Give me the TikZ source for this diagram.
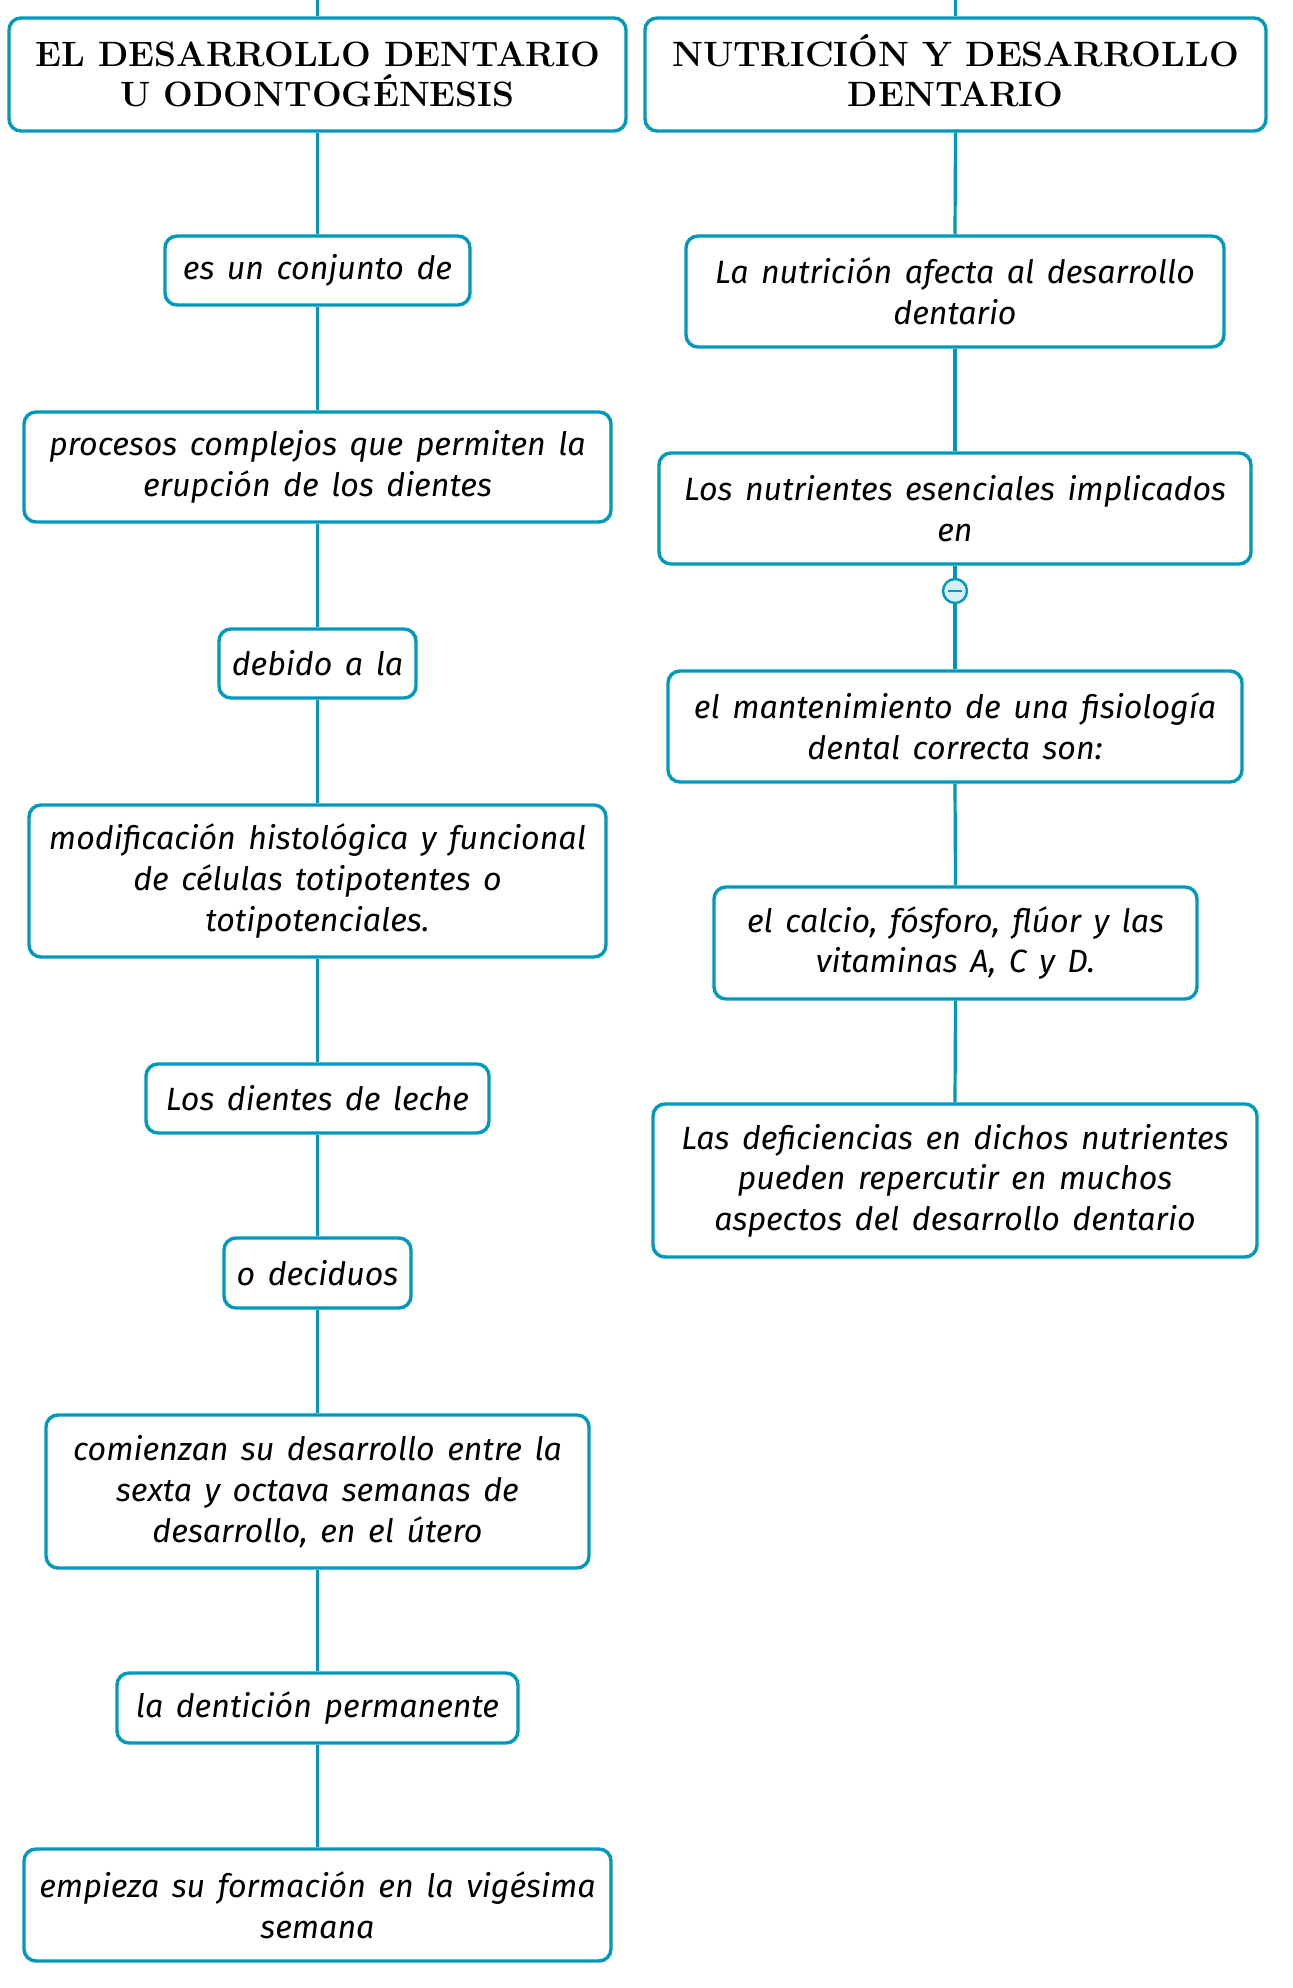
\documentclass[tikz,border=0pt]{standalone}
\usepackage{fontspec}
\usepackage{tikz}
\newfontfamily\manoletra[WordSpace=1.5]{Fira Sans Italic}
\definecolor{azul}{RGB}{0,153,190}
\definecolor{celeste}{RGB}{214,238,244}

\begin{document}
\begin{tikzpicture}[x=0.5pt,y=-0.5pt,
    titulo/.style={draw=azul, line width=1.7pt, rounded corners=6pt, fill=white,
      align=center, inner sep=0pt, font=\fontsize{17.6pt}{20.3pt}\selectfont\bfseries},
    caja/.style={draw=azul, line width=1.7pt, rounded corners=6pt, fill=white,
      align=center, inner sep=0pt, font=\fontsize{16.1pt}{20.3pt}\selectfont\manoletra},
    rama/.style={draw=azul, line width=1.6pt}]
  \useasboundingbox (0,0) rectangle (1293,1988);

  \coordinate (arribaA) at (317.5,0);
  \coordinate (arribaB) at (955.5,0);

  % columna izquierda
  \node[titulo, minimum width=308.5pt, minimum height=56.5pt] (odonto) at (317.5,74.5)
    {EL DESARROLLO DENTARIO\\U ODONTOGÉNESIS};
  \node[caja, minimum width=152.5pt, minimum height=34.5pt] (conjunto) at (317.5,270.5)
    {es un conjunto de};
  \node[caja, minimum width=293.5pt, minimum height=55pt] (procesos) at (317.5,467)
    {procesos complejos que permiten la\\erupción de los dientes};
  \node[caja, minimum width=98.5pt, minimum height=34.5pt] (debido) at (317.5,663.5)
    {debido a la};
  \node[caja, minimum width=288.5pt, minimum height=76pt] (modif) at (317.5,881)
    {modificación histológica y funcional\\de células totipotentes o\\totipotenciales.};
  \node[caja, minimum width=171.5pt, minimum height=34.5pt] (leche) at (317.5,1098.5)
    {Los dientes de leche};
  \node[caja, minimum width=93.5pt, minimum height=35pt] (deciduos) at (317.5,1273)
    {o deciduos};
  \node[caja, minimum width=271.5pt, minimum height=76.5pt] (comienzan) at (317.5,1491.5)
    {comienzan su desarrollo entre la\\sexta y octava semanas de\\desarrollo, en el útero};
  \node[caja, minimum width=200.5pt, minimum height=35pt] (permanente) at (317.5,1708)
    {la dentición permanente};
  \node[caja, minimum width=293.5pt, minimum height=56pt] (empieza) at (317.5,1905)
    {empieza su formación en la vigésima\\semana};

  % columna derecha
  \node[titulo, minimum width=310.5pt, minimum height=56.5pt] (nutri) at (955.5,74.5)
    {NUTRICI\smash{Ó}N Y DESARROLLO\\DENTARIO};
  \node[caja, minimum width=269pt, minimum height=55.5pt] (afecta) at (955,291.5)
    {La nutrición afecta al desarrollo\\dentario};
  \node[caja, minimum width=296pt, minimum height=55.5pt] (nutrientes) at (955,508.5)
    {Los nutrientes esenciales implicados\\en};
  \node[circle, draw=azul, line width=1.2pt, fill=celeste, minimum size=12pt,
    inner sep=0pt] (menos) at (955,591) {};
  \draw[azul, line width=1.3pt] ([xshift=-3.5pt]menos.center) -- ([xshift=3.5pt]menos.center);
  \node[caja, minimum width=287pt, minimum height=55.5pt] (fisio) at (955,726.5)
    {el mantenimiento de una fisiología\\dental correcta son:};
  \node[caja, minimum width=241.5pt, minimum height=56pt] (calcio) at (955.5,943)
    {el calcio, fósforo, flúor y las\\vitaminas A, C y D.};
  \node[caja, minimum width=302pt, minimum height=76.5pt] (deficit) at (955,1180.5)
    {Las deficiencias en dichos nutrientes\\pueden repercutir en muchos\\aspectos del desarrollo dentario};

  % ramas
  \path[rama] (arribaA) -- (odonto.north);
  \path[rama] (arribaB) -- (nutri.north);
  \foreach \a/\b in {odonto/conjunto, conjunto/procesos, procesos/debido, debido/modif,
      modif/leche, leche/deciduos, deciduos/comienzan, comienzan/permanente,
      permanente/empieza, nutri/afecta, afecta/nutrientes, nutrientes/menos, menos/fisio,
      fisio/calcio, calcio/deficit}
    \path[rama] (\a.south) -- (\b.north);
\end{tikzpicture}
\end{document}
